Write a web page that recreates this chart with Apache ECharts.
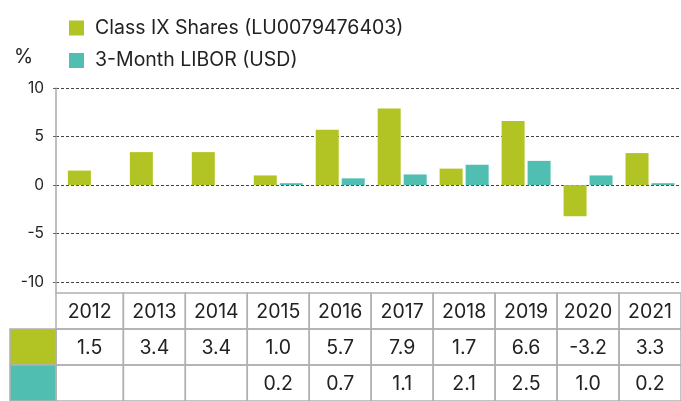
<!DOCTYPE html>
<html>
<head>
<meta charset="utf-8">
<script src="https://cdn.jsdelivr.net/npm/echarts@6/dist/echarts.min.js"></script>
<style>
html,body{margin:0;padding:0;background:#fff;}
#chart{width:681px;height:401px;}
</style>
</head>
<body>
<div id="chart"></div>
<script>
const categories = ['2012','2013','2014','2015','2016','2017','2018','2019','2020','2021'];
const classIX = [1.5, 3.4, 3.4, 1.0, 5.7, 7.9, 1.7, 6.6, -3.2, 3.3];
const libor = [null, null, null, 0.2, 0.7, 1.1, 2.1, 2.5, 1.0, 0.2];
const seriesNames = ['Class IX Shares (LU0079476403)', '3-Month LIBOR (USD)'];
const yMin = -10, yMax = 10, yInterval = 5;
const unitLabel = '%';

const GREEN = '#b1c423';
const TEAL = '#50beb0';
const FONT = 'Inter';
const TEXT = '#222';
const BORDER = '#b0b0b0';

const AXIS_X = 56;
const PLOT_LEFT = 61.4;
const PLOT_WIDTH = 622.2;
const PLOT_TOP = 88;
const PLOT_HEIGHT = 194.3;
const TABLE_TOP = 293;
const ROW_H = 37.5;
const SWATCH_X = 10;

function fmt(v){ return v == null ? '' : v.toFixed(1); }
const tableRows = [categories.slice(), classIX.map(fmt), libor.map(fmt)];
const rowColors = [null, GREEN, TEAL];
const tableData = [];
tableRows.forEach((row, r) => row.forEach((t, i) => tableData.push([i, r, t])));

const chart = echarts.init(document.getElementById('chart'));
chart.setOption({
  animation: false,
  color: [GREEN, TEAL],
  textStyle: {fontFamily: FONT},
  title: {
    text: unitLabel, left: 14, top: 47, padding: 0,
    textStyle: {fontFamily: FONT, fontSize: 19.5, fontWeight: 'normal', color: TEXT}
  },
  legend: {
    data: seriesNames, orient: 'vertical', left: 69, top: 18,
    itemWidth: 15, itemHeight: 15, itemGap: 12.5, icon: 'rect',
    selectedMode: false, padding: 0,
    textStyle: {fontFamily: FONT, fontSize: 19.5, color: TEXT, lineHeight: 15, padding: [0,0,0,6]}
  },
  grid: [
    {left: AXIS_X, top: PLOT_TOP, height: PLOT_HEIGHT, right: 0},
    {left: PLOT_LEFT, top: PLOT_TOP, height: PLOT_HEIGHT, width: PLOT_WIDTH},
    {left: PLOT_LEFT, top: TABLE_TOP, height: ROW_H * 3, width: PLOT_WIDTH}
  ],
  xAxis: [
    {gridIndex: 0, type: 'value', show: false, min: 0, max: 1},
    {gridIndex: 1, type: 'category', data: categories, show: false},
    {gridIndex: 2, type: 'category', data: categories, show: false}
  ],
  yAxis: [
    {
      gridIndex: 0, type: 'value', min: yMin, max: yMax, interval: yInterval,
      axisLine: {show: true, lineStyle: {color: '#aaa', width: 1.5}},
      axisTick: {show: true, length: 3, lineStyle: {color: '#666'}},
      axisLabel: {fontFamily: FONT, fontSize: 15.5, color: TEXT, margin: 12},
      splitLine: {show: true, lineStyle: {color: '#444', type: [3, 2], width: 1}}
    },
    {gridIndex: 1, type: 'value', min: yMin, max: yMax, interval: yInterval, show: false, splitLine: {show: false}},
    {gridIndex: 2, type: 'category', data: [0, 1, 2], inverse: true, show: false}
  ],
  series: [
    {
      name: seriesNames[0], type: 'bar', xAxisIndex: 1, yAxisIndex: 1,
      data: classIX, barWidth: 23, barGap: '13%', itemStyle: {color: GREEN}
    },
    {
      name: seriesNames[1], type: 'bar', xAxisIndex: 1, yAxisIndex: 1,
      data: libor, barWidth: 23, barGap: '13%', itemStyle: {color: TEAL}
    },
    {
      type: 'custom', xAxisIndex: 2, yAxisIndex: 2, clip: false, silent: true,
      data: tableData,
      renderItem: function (params, api) {
        const i = api.value(0), r = api.value(1);
        const t = tableRows[r][i];
        const c = api.coord([i, r]);
        const s = api.size([1, 1]);
        let x0 = c[0] - s[0] / 2;
        const x1 = c[0] + s[0] / 2;
        const y0 = c[1] - s[1] / 2;
        if (i === 0) x0 = AXIS_X;
        const children = [];
        if (i === 0 && r > 0) {
          children.push({
            type: 'rect',
            shape: {x: SWATCH_X, y: y0, width: AXIS_X - SWATCH_X, height: s[1]},
            style: {fill: rowColors[r], stroke: BORDER, lineWidth: 1.5}
          });
        }
        if (i === 0 && r === 0) {
          children.push({
            type: 'line',
            shape: {x1: AXIS_X, y1: PLOT_TOP + PLOT_HEIGHT, x2: AXIS_X, y2: y0},
            style: {stroke: '#aaa', lineWidth: 1.5}
          });
        }
        children.push({
          type: 'rect',
          shape: {x: x0, y: y0, width: x1 - x0, height: s[1]},
          style: {fill: 'none', stroke: BORDER, lineWidth: 1.5}
        });
        children.push({
          type: 'text',
          style: {
            text: t, x: (x0 + x1) / 2, y: c[1] + 1,
            align: 'center', verticalAlign: 'middle',
            textAlign: 'center', textVerticalAlign: 'middle',
            fontFamily: FONT, fontSize: 19.5, fill: TEXT
          }
        });
        return {type: 'group', children: children};
      }
    }
  ]
});
</script>
</body>
</html>
